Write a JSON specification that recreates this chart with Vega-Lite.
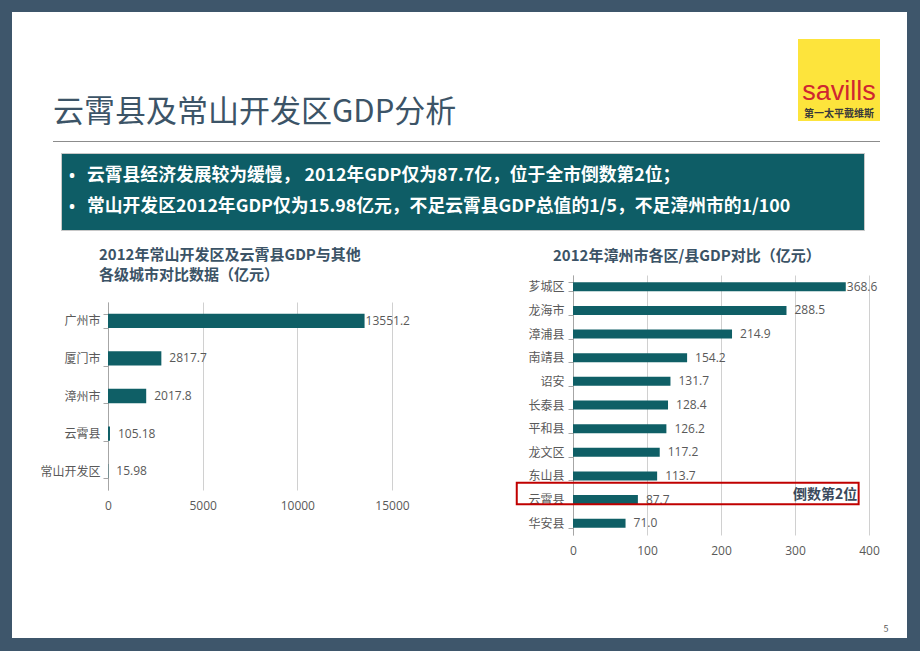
{
  "$schema": "https://vega.github.io/schema/vega-lite/v6.json",
  "padding": 0,
  "background": "white",
  "config": {
    "view": {"stroke": null},
    "font": "Noto Sans CJK SC"
  },
  "spacing": 0,
  "vconcat": [
    {"width": 920, "height": 12, "view": {"fill": "#3e566b"}, "data": {"values": []}, "mark": "point"},
    {
      "spacing": 0,
      "hconcat": [
        {"width": 12, "height": 626, "view": {"fill": "#3e566b"}, "data": {"values": []}, "mark": "point"},
        {
          "spacing": 0,
          "vconcat": [
            {"width": 895, "height": 27, "data": {"values": []}, "mark": "point"},
            {
              "spacing": 0,
              "hconcat": [
                {"width": 41, "height": 92, "data": {"values": []}, "mark": "point"},
                {
                  "width": 744, "height": 92, "data": {"values": []}, "mark": "point",
                  "title": {"text": "云霄县及常山开发区GDP分析", "orient": "bottom", "anchor": "start", "frame": "group", "offset": -9, "dx": -1, "baseline": "alphabetic", "fontSize": 31, "fontWeight": "normal", "color": "#3c5467", "font": "Noto Sans CJK SC"}
                },
                {
                  "width": 82, "height": 82, "view": {"fill": "#fde43c"},
                  "data": {"values": [{"brand": "savills", "cn": "第一太平戴维斯"}]},
                  "layer": [
                    {"mark": {"type": "text", "font": "Liberation Sans", "fontSize": 27, "color": "#cf2630", "baseline": "alphabetic", "dy": 20}, "encoding": {"text": {"field": "brand"}}},
                    {"mark": {"type": "text", "font": "Noto Sans CJK SC", "fontWeight": "bold", "fontSize": 10, "color": "#3a3a3a", "baseline": "middle", "dy": 34}, "encoding": {"text": {"field": "cn"}}}
                  ]
                }
              ]
            },
            {"width": 1, "height": 10, "data": {"values": []}, "mark": "point"},
            {
              "spacing": 0,
              "hconcat": [
                {"width": 41, "height": 1, "data": {"values": []}, "mark": "point"},
                {"width": 827, "height": 1, "view": {"fill": "#8c8c8c"}, "data": {"values": []}, "mark": "point"}
              ]
            },
            {"width": 1, "height": 10, "data": {"values": []}, "mark": "point"},
            {
              "spacing": 0,
              "hconcat": [
                {"width": 48, "height": 77, "data": {"values": []}, "mark": "point"},
                {
                  "width": 803, "height": 77,
                  "view": {"fill": "#0e5d66", "stroke": "#c8c8c8", "strokeWidth": 1},
                  "data": {"values": [
                    {"line": 1, "text": "云霄县经济发展较为缓慢， 2012年GDP仅为87.7亿，位于全市倒数第2位；"},
                    {"line": 2, "text": "常山开发区2012年GDP仅为15.98亿元，不足云霄县GDP总值的1/5，不足漳州市的1/100"}
                  ]},
                  "encoding": {
                    "y": {"field": "line", "type": "ordinal", "scale": {"type": "point", "padding": 0.742}, "axis": null},
                    "x": {"datum": 0, "type": "quantitative", "scale": {"domain": [0, 1]}, "axis": null}
                  },
                  "layer": [
                    {"mark": {"type": "text", "text": "•", "font": "Open Sans", "align": "left", "baseline": "middle", "dx": 8, "fontSize": 16, "fontWeight": "bold", "color": "white"}},
                    {"mark": {"type": "text", "align": "left", "baseline": "middle", "dx": 26, "fontSize": 17.8, "fontWeight": "bold", "color": "white"}, "encoding": {"text": {"field": "text"}}}
                  ]
                }
              ]
            },
            {"width": 1, "height": 11.5, "data": {"values": []}, "mark": "point"},
            {
              "spacing": 0,
              "hconcat": [
                {"width": 27, "height": 377, "data": {"values": []}, "mark": "point"},
                {
                  "spacing": 0,
                  "vconcat": [
                    {
                      "width": 284, "height": 53,
                      "data": {"values": [{"t": ["2012年常山开发区及云霄县GDP与其他", "各级城市对比数据（亿元）"]}]},
                      "mark": {"type": "text", "align": "left", "baseline": "middle", "dx": -9, "dy": -14.5, "lineHeight": 20, "fontSize": 15, "fontWeight": "bold", "color": "#3b5366"},
                      "encoding": {
                        "x": {"datum": 0, "type": "quantitative", "scale": {"domain": [0, 1]}, "axis": null},
                        "text": {"field": "t"}
                      }
                    },
                    {
                      "width": 284, "height": 188,
                      "data": {"values": [
                        {"name": "广州市", "gdp": 13551.2},
                        {"name": "厦门市", "gdp": 2817.7},
                        {"name": "漳州市", "gdp": 2017.8},
                        {"name": "云霄县", "gdp": 105.18},
                        {"name": "常山开发区", "gdp": 15.98}
                      ]},
                      "encoding": {
                        "y": {"field": "name", "type": "nominal", "sort": null, "scale": {"paddingInner": 0.62, "paddingOuter": 0.31},
                          "axis": {"title": null, "domainColor": "#a6a6a6", "tickColor": "#a6a6a6", "tickBand": "extent", "tickSize": 5, "labelPadding": 3, "labelFontSize": 12, "labelColor": "#595959", "labelFont": "Noto Sans CJK SC"}},
                        "x": {"field": "gdp", "type": "quantitative", "scale": {"domain": [0, 15000], "nice": false},
                          "axis": {"title": null, "values": [0, 5000, 10000, 15000], "format": "d", "grid": true, "gridColor": "#d0d0d0", "domain": false, "ticks": false, "labelFlush": false, "labelPadding": 10, "labelFontSize": 12, "labelColor": "#595959", "labelFont": "Open Sans"}}
                      },
                      "layer": [
                        {"mark": {"type": "bar", "color": "#0f5f66"}},
                        {"mark": {"type": "text", "align": "left", "baseline": "middle", "dx": 8, "fontSize": 12, "font": "Open Sans", "color": "#595959"},
                          "encoding": {"text": {"condition": {"test": "datum.gdp < 10000", "field": "gdp", "type": "nominal"}, "value": ""}}},
                        {"mark": {"type": "text", "align": "left", "baseline": "middle", "dx": 1, "fontSize": 12, "font": "Open Sans", "color": "#595959"},
                          "encoding": {"text": {"condition": {"test": "datum.gdp >= 10000", "field": "gdp", "type": "nominal"}, "value": ""}}}
                      ]
                    }
                  ]
                },
                {"width": 105, "height": 1, "data": {"values": []}, "mark": "point"},
                {
                  "spacing": 0,
                  "vconcat": [
                    {
                      "width": 296, "height": 26,
                      "data": {"values": [{"t": "2012年漳州市各区/县GDP对比（亿元）"}]},
                      "mark": {"type": "text", "align": "left", "baseline": "middle", "dx": -20, "dy": 0, "fontSize": 15, "fontWeight": "bold", "color": "#3b5366"},
                      "encoding": {
                        "x": {"datum": 0, "type": "quantitative", "scale": {"domain": [0, 1]}, "axis": null},
                        "text": {"field": "t"}
                      }
                    },
                    {
                      "width": 296, "height": 260,
                      "data": {"values": [
                        {"name": "芗城区", "v": 368.6},
                        {"name": "龙海市", "v": 288.5},
                        {"name": "漳浦县", "v": 214.9},
                        {"name": "南靖县", "v": 154.2},
                        {"name": "诏安", "v": 131.7},
                        {"name": "长泰县", "v": 128.4},
                        {"name": "平和县", "v": 126.2},
                        {"name": "龙文区", "v": 117.2},
                        {"name": "东山县", "v": 113.7},
                        {"name": "云霄县", "v": 87.7},
                        {"name": "华安县", "v": 71.0}
                      ]},
                      "encoding": {
                        "y": {"field": "name", "type": "nominal",
                          "scale": {"domain": ["芗城区", "龙海市", "漳浦县", "南靖县", "诏安", "长泰县", "平和县", "龙文区", "东山县", "云霄县", "华安县"], "paddingInner": 0.62, "paddingOuter": 0.31},
                          "axis": {"title": null, "domainColor": "#a6a6a6", "tickColor": "#a6a6a6", "tickBand": "extent", "tickSize": 5, "labelPadding": 4, "labelFontSize": 12, "labelColor": "#595959", "labelFont": "Noto Sans CJK SC"}},
                        "x": {"field": "v", "type": "quantitative", "scale": {"domain": [0, 400], "nice": false},
                          "axis": {"title": null, "values": [0, 100, 200, 300, 400], "format": "d", "grid": true, "gridColor": "#d0d0d0", "domain": false, "ticks": false, "labelFlush": false, "labelPadding": 10, "labelFontSize": 12, "labelColor": "#595959", "labelFont": "Open Sans"}}
                      },
                      "layer": [
                        {"mark": {"type": "bar", "color": "#0f5f66"}},
                        {"mark": {"type": "text", "align": "left", "baseline": "middle", "dx": 8, "fontSize": 12, "font": "Open Sans", "color": "#595959"},
                          "encoding": {"text": {"condition": {"test": "datum.v < 300", "field": "v", "type": "quantitative", "format": ".1f"}, "value": ""}}},
                        {"mark": {"type": "text", "align": "left", "baseline": "middle", "dx": 1, "fontSize": 12, "font": "Open Sans", "color": "#595959"},
                          "encoding": {"text": {"condition": {"test": "datum.v >= 300", "field": "v", "type": "quantitative", "format": ".1f"}, "value": ""}}},
                        {"transform": [{"filter": "datum.name === '云霄县'"}],
                          "mark": {"type": "rect", "filled": false, "stroke": "#c00000", "strokeWidth": 2, "height": 21.6, "yOffset": -6},
                          "encoding": {"x": {"datum": -76}, "x2": {"datum": 386}}},
                        {"transform": [{"filter": "datum.name === '云霄县'"}],
                          "mark": {"type": "text", "text": "倒数第2位", "align": "right", "baseline": "middle", "dy": -5, "fontSize": 14, "fontWeight": "bold", "color": "#3a4a5c"},
                          "encoding": {"x": {"datum": 384}}}
                      ]
                    }
                  ]
                }
              ]
            },
            {
              "spacing": 0,
              "hconcat": [
                {"width": 866, "height": 18, "data": {"values": []}, "mark": "point"},
                {"width": 16, "height": 18, "data": {"values": [{"p": "5"}]}, "mark": {"type": "text", "fontSize": 9, "color": "#595959"}, "encoding": {"text": {"field": "p"}}}
              ]
            }
          ]
        },
        {"width": 13, "height": 626, "view": {"fill": "#3e566b"}, "data": {"values": []}, "mark": "point"}
      ]
    },
    {"width": 920, "height": 13, "view": {"fill": "#3e566b"}, "data": {"values": []}, "mark": "point"}
  ]
}
